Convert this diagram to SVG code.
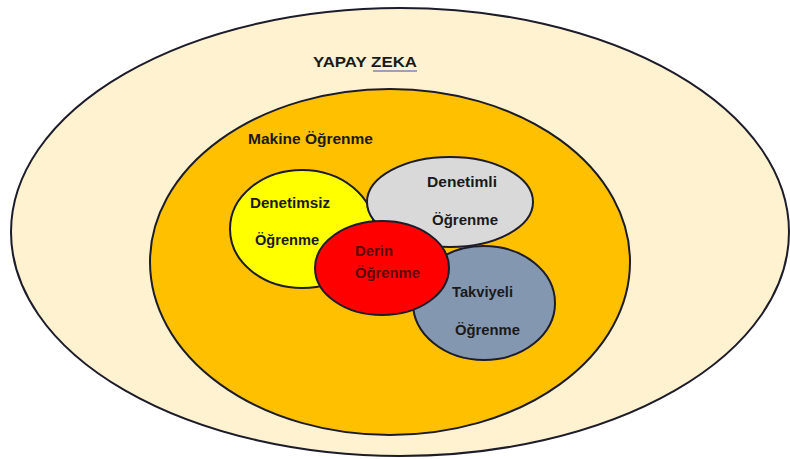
<svg xmlns="http://www.w3.org/2000/svg" width="790" height="459" viewBox="0 0 790 459">
<style>
.e{stroke:#1c1c2a;stroke-width:2}
text{font-family:"Liberation Sans",Arial,sans-serif;font-weight:bold;font-size:14px;fill:#1a1a1a}
</style>
<rect width="790" height="459" fill="#ffffff"/>
<g id="yapay-zeka">
<ellipse class="e" cx="400" cy="232" rx="389" ry="224" fill="#FFF2D1"/>
<text x="313" y="67" textLength="104" lengthAdjust="spacingAndGlyphs" font-size="15">YAPAY ZEKA</text>
<line x1="373" y1="71" x2="417" y2="71" stroke="#3b4fa0" stroke-width="1.2"/>
</g>
<g id="makine-ogrenme">
<ellipse class="e" cx="390" cy="262" rx="240" ry="173" fill="#FFC000"/>
<text x="248" y="144" textLength="125" lengthAdjust="spacingAndGlyphs">Makine Öğrenme</text>
</g>
<g id="denetimsiz">
<ellipse class="e" cx="302" cy="229" rx="72" ry="59" fill="#FFFF00"/>
<text x="250" y="208" textLength="80" lengthAdjust="spacingAndGlyphs">Denetimsiz</text>
<text x="255" y="245" textLength="64" lengthAdjust="spacingAndGlyphs">Öğrenme</text>
</g>
<g id="denetimli">
<ellipse class="e" cx="450" cy="202" rx="83" ry="45" fill="#D9D9D9"/>
<text x="427" y="187" textLength="70" lengthAdjust="spacingAndGlyphs">Denetimli</text>
<text x="432" y="225" textLength="66" lengthAdjust="spacingAndGlyphs">Öğrenme</text>
</g>
<g id="takviyeli">
<ellipse class="e" cx="484" cy="303" rx="71" ry="57" fill="#8497B0"/>
<text x="452" y="297" textLength="61" lengthAdjust="spacingAndGlyphs">Takviyeli</text>
<text x="455" y="335" textLength="65" lengthAdjust="spacingAndGlyphs">Öğrenme</text>
</g>
<g id="derin">
<ellipse class="e" cx="382" cy="268" rx="67" ry="47" fill="#FF0000"/>
<text x="355" y="256" textLength="38" lengthAdjust="spacingAndGlyphs" fill="#5a0a0a" style="fill:#5a0a0a">Derin</text>
<text x="355" y="278" textLength="65" lengthAdjust="spacingAndGlyphs" style="fill:#5a0a0a">Öğrenme</text>
</g>
<g id="connectors"></g>
</svg>
